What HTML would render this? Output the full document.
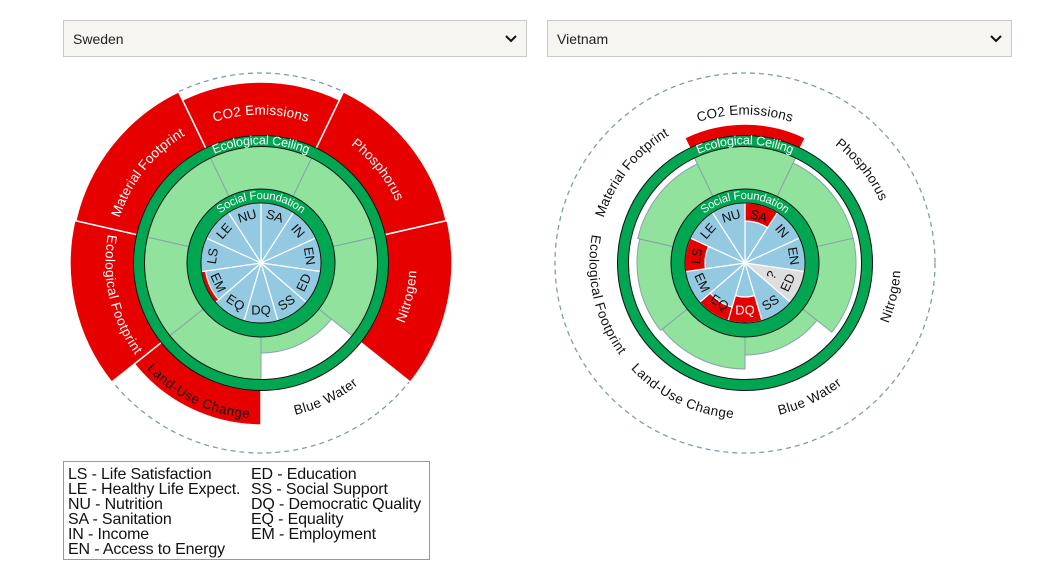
<!DOCTYPE html>
<html><head><meta charset="utf-8">
<style>
body{margin:0;width:1048px;height:570px;background:#fff;overflow:hidden;font-family:"Liberation Sans",sans-serif;position:relative}
.sel{position:absolute;top:20px;height:37px;border:1px solid #c8c8c8;background:#f6f5f2;box-sizing:border-box;font-size:14px;line-height:36px;padding-left:9px;color:#222}
.sel svg{position:absolute;right:9px;top:14px}
.legend{position:absolute;left:63px;top:461px;width:367px;height:99px;border:1.5px solid #999;box-sizing:border-box;font-size:16px;line-height:15px;color:#111;letter-spacing:-0.15px}
.legend div{position:absolute;top:5px;white-space:pre}
svg text{font-family:"Liberation Sans",sans-serif}
</style></head><body>
<div class="sel" style="left:63px;width:464px">Sweden<svg width="12" height="8"><path d="M1 1 L6 6 L11 1" stroke="#111" stroke-width="2" fill="none"/></svg></div>
<div class="sel" style="left:547px;width:465px">Vietnam<svg width="12" height="8"><path d="M1 1 L6 6 L11 1" stroke="#111" stroke-width="2" fill="none"/></svg></div>

<svg id="chart" width="1048" height="570" style="position:absolute;left:0;top:0">
<g id="shapes"></g>
<g id="labels" font-size="13.5" letter-spacing="0.3">
 <text fill="#fff"><textPath href="#L0" startOffset="50%" text-anchor="middle" dominant-baseline="middle">CO2 Emissions</textPath></text>
 <text fill="#fff"><textPath href="#L1" startOffset="50%" text-anchor="middle" dominant-baseline="middle">Phosphorus</textPath></text>
 <text fill="#fff"><textPath href="#L2" startOffset="50%" text-anchor="middle" dominant-baseline="middle">Nitrogen</textPath></text>
 <text fill="#111"><textPath href="#L3" startOffset="50%" text-anchor="middle" dominant-baseline="middle">Blue Water</textPath></text>
 <text fill="#111"><textPath href="#L4" startOffset="50%" text-anchor="middle" dominant-baseline="middle">Land-Use Change</textPath></text>
 <text fill="#fff"><textPath href="#L5" startOffset="50%" text-anchor="middle" dominant-baseline="middle">Ecological Footprint</textPath></text>
 <text fill="#fff"><textPath href="#L6" startOffset="50%" text-anchor="middle" dominant-baseline="middle">Material Footprint</textPath></text>
 <text fill="#111"><textPath href="#R0" startOffset="50%" text-anchor="middle" dominant-baseline="middle">CO2 Emissions</textPath></text>
 <text fill="#111"><textPath href="#R1" startOffset="50%" text-anchor="middle" dominant-baseline="middle">Phosphorus</textPath></text>
 <text fill="#111"><textPath href="#R2" startOffset="50%" text-anchor="middle" dominant-baseline="middle">Nitrogen</textPath></text>
 <text fill="#111"><textPath href="#R3" startOffset="50%" text-anchor="middle" dominant-baseline="middle">Blue Water</textPath></text>
 <text fill="#111"><textPath href="#R4" startOffset="50%" text-anchor="middle" dominant-baseline="middle">Land-Use Change</textPath></text>
 <text fill="#111"><textPath href="#R5" startOffset="50%" text-anchor="middle" dominant-baseline="middle">Ecological Footprint</textPath></text>
 <text fill="#111"><textPath href="#R6" startOffset="50%" text-anchor="middle" dominant-baseline="middle">Material Footprint</textPath></text>
 <text fill="#fff" font-size="12.5" letter-spacing="0"><textPath href="#LE" startOffset="50%" text-anchor="middle" dominant-baseline="middle">Ecological Ceiling</textPath></text>
 <text fill="#fff" font-size="12.5" letter-spacing="0"><textPath href="#RE" startOffset="50%" text-anchor="middle" dominant-baseline="middle">Ecological Ceiling</textPath></text>
 <text fill="#fff" font-size="11.5" letter-spacing="0"><textPath href="#LS" startOffset="50%" text-anchor="middle" dominant-baseline="middle">Social Foundation</textPath></text>
 <text fill="#fff" font-size="11.5" letter-spacing="0"><textPath href="#RS" startOffset="50%" text-anchor="middle" dominant-baseline="middle">Social Foundation</textPath></text>
</g>
<g id="soc" font-size="13" fill="#111" text-anchor="middle" dominant-baseline="middle">
 <text class="l">SA</text><text class="l">IN</text><text class="l">EN</text><text class="l">ED</text><text class="l">SS</text><text class="l">DQ</text><text class="l">EQ</text><text class="l">EM</text><text class="l">LS</text><text class="l">LE</text><text class="l">NU</text>
 <text class="r">SA</text><text class="r">IN</text><text class="r">EN</text><text class="r">ED</text><text class="r">SS</text><text class="r" fill="#fff">DQ</text><text class="r">EQ</text><text class="r">EM</text><text class="r">LS</text><text class="r">LE</text><text class="r">NU</text>
 <text id="q">?</text>
</g>
</svg>

<div class="legend">
<div style="left:4px">LS - Life Satisfaction
LE - Healthy Life Expect.
NU - Nutrition
SA - Sanitation
IN - Income
EN - Access to Energy</div>
<div style="left:187px">ED - Education
SS - Social Support
DQ - Democratic Quality
EQ - Equality
EM - Employment</div>
</div>

<script>
const NS="http://www.w3.org/2000/svg";
const G=document.getElementById('shapes');
function pt(cx,cy,r,a){a=a*Math.PI/180;return [cx+r*Math.cos(a),cy+r*Math.sin(a)];}
function sector(cx,cy,r0,r1,a0,a1){
 const L=(a1-a0)>180?1:0;
 const p0=pt(cx,cy,r1,a0),p1=pt(cx,cy,r1,a1),p2=pt(cx,cy,r0,a1),p3=pt(cx,cy,r0,a0);
 if(r0<=0)return `M${cx},${cy}L${p0}A${r1},${r1} 0 ${L} 1 ${p1}Z`;
 return `M${p0}A${r1},${r1} 0 ${L} 1 ${p1}L${p2}A${r0},${r0} 0 ${L} 0 ${p3}Z`;
}
function el(tag,attrs,parent){const e=document.createElementNS(NS,tag);for(const k in attrs)e.setAttribute(k,attrs[k]);(parent||G).appendChild(e);return e;}
function arcText(id,cx,cy,r,a0,a1,flip){
 const p0=pt(cx,cy,r,a0),p1=pt(cx,cy,r,a1);
 const d=flip?`M${p1}A${r},${r} 0 0 0 ${p0}`:`M${p0}A${r},${r} 0 0 1 ${p1}`;
 el('path',{id:id,d:d,fill:'none'});
}
const RED="#e60000",LG="#90e29c",RING="#00a651",BLUE="#94c9e2";
const S7=360/7,S11=360/11;
function chart(cx,cy,pre,red,grn,socRed,grey,socCls){
 el('circle',{cx,cy,r:190,fill:'none',stroke:'#7f9ea6','stroke-width':1.3,'stroke-dasharray':'5,4'});
 for(let i=0;i<7;i++){
  const c=-90+i*S7,a0=c-S7/2,a1=c+S7/2;
  if(red[i]>0) el('path',{d:sector(cx,cy,127,red[i],a0,a1),fill:RED,stroke:'#fff','stroke-width':1.5});
 }
 for(let i=0;i<7;i++){
  const c=-90+i*S7,a0=c-S7/2,a1=c+S7/2;
  el('path',{d:sector(cx,cy,73,grn[i],a0,a1),fill:LG,stroke:'#8aa2aa','stroke-width':1});
  const flip=(c>0&&c<180);
  arcText(pre+i,cx,cy,152,a0,a1,flip);
 }
 el('circle',{cx,cy,r:122,fill:'none',stroke:'#111','stroke-width':12});
 el('circle',{cx,cy,r:122,fill:'none',stroke:RING,'stroke-width':10});
 arcText(pre+'E',cx,cy,122,-140,-40,false);
 for(let j=0;j<11;j++){
  const a0=-90+j*S11,a1=a0+S11;
  el('path',{d:sector(cx,cy,0,60,a0,a1),fill:grey.includes(j)?'#dedede':BLUE,stroke:'#fff','stroke-width':1.2});
  if(socRed[j]) el('path',{d:sector(cx,cy,socRed[j],60,a0,a1),fill:RED,stroke:'#fff','stroke-width':1.2});
 }
 el('circle',{cx,cy,r:67,fill:'none',stroke:'#111','stroke-width':15});
 el('circle',{cx,cy,r:67,fill:'none',stroke:RING,'stroke-width':13});
 arcText(pre+'S',cx,cy,67,-150,-30,false);
 const ts=document.querySelectorAll('#soc text.'+socCls);
 ts.forEach((t,j)=>{
  const c=-90+j*S11+S11/2;const p=pt(cx,cy,48,c);
  let cc=((c%360)+360)%360;let rot=(cc>0&&cc<180)?c-90:c+90;
  t.setAttribute('x',p[0]);t.setAttribute('y',p[1]);
  t.setAttribute('transform',`rotate(${rot} ${p[0]} ${p[1]})`);
 });
}
chart(261,263,'L',[181,190,191,0,162,191,190],[117,117,117,90,117,117,117],{7:56},[],'l');
chart(745,263,'R',[139,0,0,0,0,0,0],[117,111,111,92,106,108,110],{0:42,8:40,6:46,5:34},[3],'r');
const q=document.getElementById('q');const p=pt(745,263,30,-90+3*S11+S11/2);
q.setAttribute('x',p[0]);q.setAttribute('y',p[1]);q.setAttribute('transform',`rotate(-60 ${p[0]} ${p[1]})`);
</script>
</body></html>
